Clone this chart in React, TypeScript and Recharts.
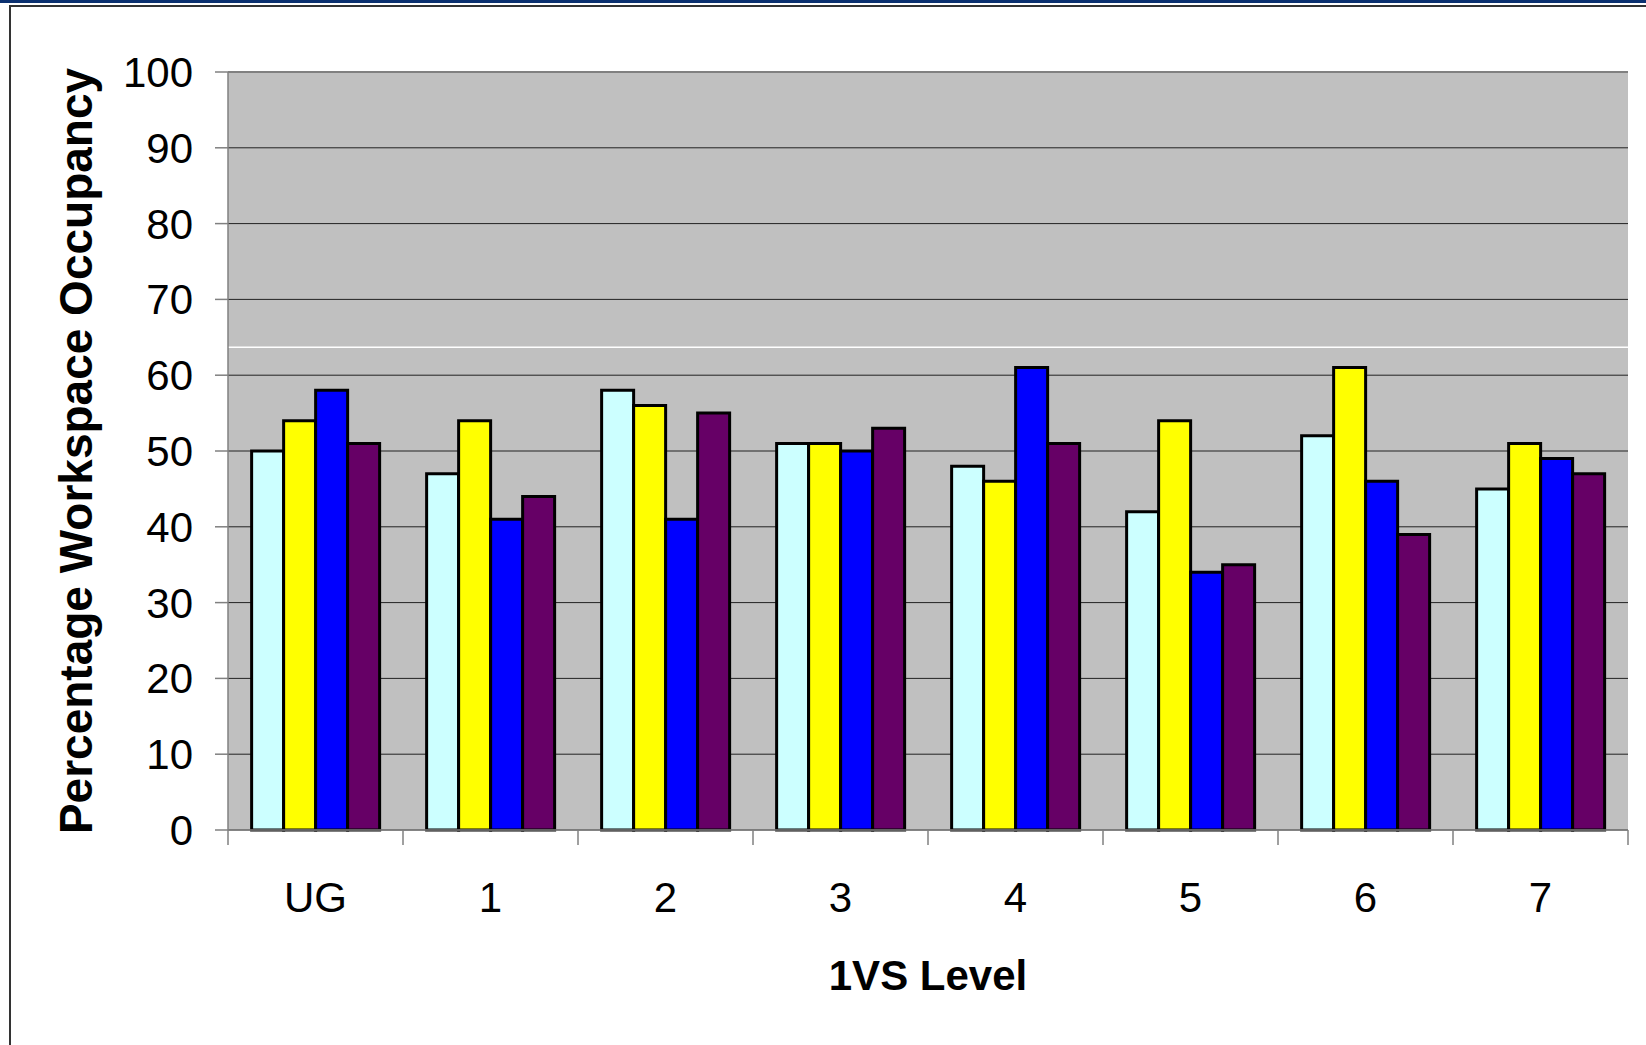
import React from 'react';
import { BarChart, Bar, XAxis, YAxis, CartesianGrid, ReferenceLine } from 'recharts';

const levels = ['UG', '1', '2', '3', '4', '5', '6', '7'];
const seriesA = [50, 47, 58, 51, 48, 42, 52, 45];
const seriesB = [54, 54, 56, 51, 46, 54, 61, 51];
const seriesC = [58, 41, 41, 50, 61, 34, 46, 49];
const seriesD = [51, 44, 55, 53, 51, 35, 39, 47];
const yTicks = [0, 10, 20, 30, 40, 50, 60, 70, 80, 90, 100];
// faint white line across the plot in the original
const whiteLineAt = 63.7;

const data = levels.map((level, i) => ({
  level,
  a: seriesA[i],
  b: seriesB[i],
  c: seriesC[i],
  d: seriesD[i],
}));

const FONT = "'Liberation Sans', Arial, sans-serif";
const TICK_SIZE = 15;
const TICK_MARGIN = 37;

function LevelTick(props: any) {
  const { x, y, payload, index } = props;
  const half = payload && typeof payload.offset === 'number' && payload.offset > 0 ? payload.offset : 87.5;
  const axisY = y - TICK_SIZE - TICK_MARGIN;
  return (
    <g>
      <line x1={x - half} y1={axisY} x2={x - half} y2={axisY + TICK_SIZE} stroke="#808080" strokeWidth={1.5} />
      {index === levels.length - 1 && (
        <line x1={x + half} y1={axisY} x2={x + half} y2={axisY + TICK_SIZE} stroke="#808080" strokeWidth={1.5} />
      )}
      <text x={x} y={y} dy="0.71em" textAnchor="middle" fontSize={42} fontFamily={FONT} fill="#000">
        {payload.value}
      </text>
    </g>
  );
}

function YTitle(props: any) {
  const vb = props.viewBox || { y: 72, height: 758 };
  const cy = vb.y + vb.height / 2;
  const bx = 92;
  return (
    <text
      x={bx}
      y={cy}
      transform={`rotate(-90, ${bx}, ${cy})`}
      textAnchor="middle"
      fontSize={46}
      fontWeight="bold"
      fontFamily={FONT}
      fill="#000"
    >
      Percentage Workspace Occupancy
    </text>
  );
}

export default function App() {
  return (
    <div style={{ position: 'absolute', left: 0, top: 0, width: 1646, height: 1045, background: '#fff', overflow: 'hidden' }}>
      <div style={{ position: 'absolute', left: 0, top: 0, width: 1646, height: 3, background: '#0b3070' }} />
      <div style={{ position: 'absolute', left: 9, top: 5, width: 1637, height: 2, background: '#333' }} />
      <div style={{ position: 'absolute', left: 9, top: 5, width: 2, height: 1040, background: '#333' }} />
      <div style={{ position: 'absolute', left: 0, top: 0 }}>
        <BarChart
          width={1646}
          height={1045}
          data={data}
          margin={{ top: 72, right: 18, left: 0, bottom: 0 }}
          barCategoryGap="13.5%"
          barGap={0}
        >
          <CartesianGrid horizontal vertical={false} stroke="#222" fill="#C0C0C0" fillOpacity={1} />
          <ReferenceLine y={whiteLineAt} stroke="#ffffff" strokeWidth={1.5} />
          <ReferenceLine y={100} stroke="#808080" strokeWidth={2} />
          <XAxis
            dataKey="level"
            height={215}
            axisLine={{ stroke: '#808080', strokeWidth: 1.5 }}
            tickLine={false}
            tickSize={TICK_SIZE}
            tickMargin={TICK_MARGIN}
            tick={<LevelTick />}
            interval={0}
            label={{ value: '1VS Level', position: 'insideBottom', offset: 55, fontSize: 42, fontWeight: 'bold', fontFamily: FONT, fill: '#000' }}
          />
          <YAxis
            width={228}
            domain={[0, 100]}
            ticks={yTicks}
            interval={0}
            axisLine={{ stroke: '#808080', strokeWidth: 1.5 }}
            tickLine={{ stroke: '#808080', strokeWidth: 1.5 }}
            tickSize={13}
            tickMargin={22}
            tick={{ fontSize: 42, fontFamily: FONT, fill: '#000' }}
            label={<YTitle />}
          />
          <YAxis
            yAxisId="right"
            orientation="right"
            width={0}
            domain={[0, 100]}
            tick={false}
            tickLine={false}
            axisLine={{ stroke: '#8a8a8a', strokeWidth: 2.5 }}
          />
          <Bar dataKey="a" fill="#CCFFFF" stroke="#000" strokeWidth={3} isAnimationActive={false} />
          <Bar dataKey="b" fill="#FFFF00" stroke="#000" strokeWidth={3} isAnimationActive={false} />
          <Bar dataKey="c" fill="#0000FF" stroke="#000" strokeWidth={3} isAnimationActive={false} />
          <Bar dataKey="d" fill="#660066" stroke="#000" strokeWidth={3} isAnimationActive={false} />
        </BarChart>
      </div>
    </div>
  );
}
